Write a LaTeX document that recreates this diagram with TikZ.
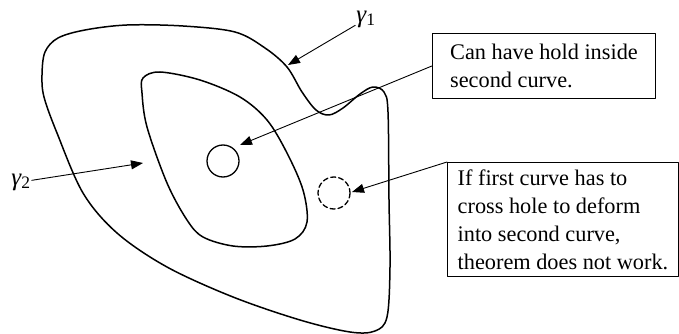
\documentclass[tikz,border=0pt]{standalone}
\usepackage{fontspec}
\setmainfont{Liberation Serif}
\usetikzlibrary{arrows.meta}
\begin{document}
\begin{tikzpicture}[x=1pt,y=-1pt,line cap=round,line join=round,
	font=\fontsize{22.3}{28}\selectfont,
	curve/.style={line width=1.5pt},
	gam/.style={font=\fontsize{25}{26}\selectfont,inner sep=1pt},
	note/.style={draw,line width=0.9pt,align=left,anchor=north west,inner xsep=0pt},
	pointer/.style={line width=0.9pt,-{Triangle[length=12pt,width=9pt]}}]
	\useasboundingbox (0,0) rectangle (679,334);
	% outer curve
	\draw[curve] plot[smooth cycle,tension=0.55] coordinates{(42,75) (45,52) (58,38) (85,30) (127,25) (183,26) (235,32) (265,48) (287,67) (302,92) (316,110) (329,115) (343,108) (360,94) (373,87) (384,92) (388,112) (389,200) (390,267) (387,317) (375,331) (350,332) (300,320) (233,297) (167,267) (117,233) (83,193) (57,133) (44,97)};
	% inner curve
	\draw[curve] plot[smooth cycle,tension=0.55] coordinates{(143,78) (160,72) (200,80) (240,97) (267,120) (287,153) (303,190) (307,222) (295,239) (267,246) (233,246) (203,237) (187,220) (167,183) (147,127) (142,93)};
	% holes
	\draw[line width=1.3pt] (223,161) circle (16);
	\draw[line width=1.3pt,dash pattern=on 5pt off 3pt] (334,193) circle (16);
	% labels
	\node[gam] (gA) at (366,19) {{\itshape γ}\textsubscript{1}};
	\node[gam] (gB) at (21,182) {{\itshape γ}\textsubscript{2}};
	\node[note,minimum width=223pt,minimum height=65pt] (holeA) at (432,33) {Can have hold inside\\second curve.};
	\node[note,minimum width=231pt,minimum height=114pt] (holeB) at (447,162) {If first curve has to\\cross hole to deform\\into second curve,\\theorem does not work.};
	\coordinate (tA) at (288,65);
	\coordinate (tB) at (143,163);
	\coordinate (tC) at (240,145);
	\coordinate (tD) at (352,192);
	\draw[pointer] (gA) -- (tA);
	\draw[pointer] (gB) -- (tB);
	\draw[pointer] (holeA.west) -- (tC);
	\draw[pointer] (holeB.north west) -- (tD);
\end{tikzpicture}
\end{document}
